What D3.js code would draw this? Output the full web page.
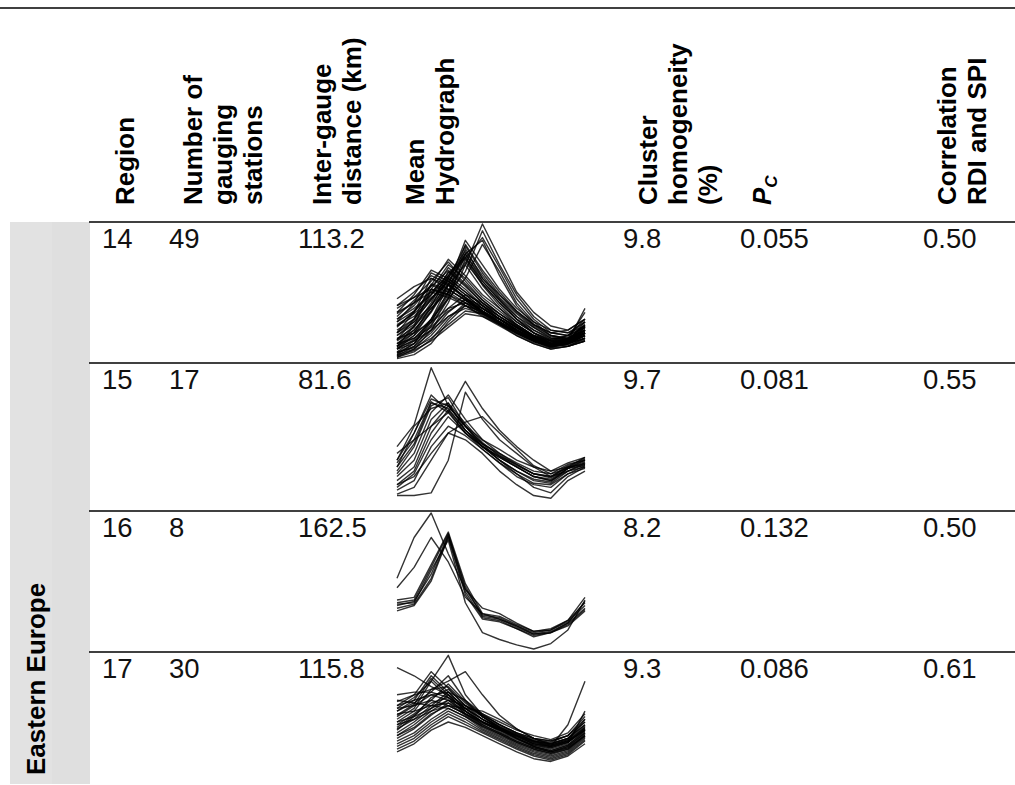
<!DOCTYPE html>
<html>
<head>
<meta charset="utf-8">
<script src="https://cdn.jsdelivr.net/npm/d3@7"></script>
<style>
    html, body { margin: 0; padding: 0; background: #fff; }
    svg { display: block; font-family: "Liberation Sans", Arial, sans-serif; }
</style>
</head>
<body>
<svg id="chart" width="1015" height="785"></svg>
<script>
// ── Table values ─────────────────────────────────────────
const groupLabel = 'Eastern Europe';
const regions = ['14', '15', '16', '17'];
const stations = ['49', '17', '8', '30'];
const distances = ['113.2', '81.6', '162.5', '115.8'];
const homogeneity = ['9.8', '9.7', '8.2', '9.3'];
const pcValues = ['0.055', '0.081', '0.132', '0.086'];
const correlations = ['0.50', '0.55', '0.50', '0.61'];

// Mean hydrographs, one line per gauging station, 12 months, scaled 0-100 per cell
const hydro14 = [
    [20, 28, 40, 55, 70, 100, 75, 50, 35, 25, 22, 30],
    [15, 25, 38, 50, 65, 95, 70, 48, 32, 22, 20, 28],
    [25, 32, 45, 58, 75, 90, 68, 45, 30, 20, 18, 25],
    [10, 18, 30, 45, 60, 85, 65, 42, 28, 18, 16, 22],
    [30, 38, 48, 60, 78, 88, 62, 40, 26, 18, 15, 20],
    [12, 20, 35, 55, 88, 70, 52, 38, 28, 22, 20, 25],
    [8, 15, 30, 50, 85, 66, 50, 36, 26, 20, 18, 24],
    [18, 26, 40, 60, 84, 64, 48, 35, 25, 18, 16, 22],
    [5, 12, 28, 48, 82, 60, 45, 32, 24, 17, 15, 20],
    [22, 30, 44, 62, 80, 62, 46, 34, 24, 16, 14, 18],
    [3, 10, 25, 45, 78, 58, 44, 30, 22, 15, 13, 18],
    [14, 22, 36, 56, 78, 60, 48, 36, 26, 20, 22, 30],
    [28, 36, 48, 64, 76, 56, 42, 30, 20, 14, 12, 16],
    [6, 14, 26, 46, 74, 55, 40, 28, 20, 14, 14, 20],
    [35, 42, 50, 62, 75, 58, 44, 32, 22, 16, 15, 22],
    [10, 16, 28, 50, 72, 56, 42, 30, 20, 12, 10, 14],
    [2, 8, 22, 42, 70, 52, 38, 26, 18, 12, 12, 18],
    [30, 40, 55, 74, 62, 48, 38, 28, 20, 15, 18, 28],
    [25, 35, 52, 70, 60, 46, 36, 26, 18, 13, 16, 25],
    [40, 46, 58, 72, 58, 44, 34, 25, 17, 12, 14, 22],
    [20, 30, 48, 68, 56, 44, 34, 26, 18, 14, 18, 30],
    [15, 24, 42, 65, 54, 42, 32, 24, 16, 12, 15, 26],
    [10, 20, 40, 62, 52, 40, 30, 22, 15, 10, 14, 24],
    [34, 42, 54, 66, 55, 42, 32, 24, 16, 12, 13, 20],
    [8, 18, 36, 60, 50, 40, 30, 22, 15, 11, 16, 35],
    [18, 28, 45, 58, 48, 38, 30, 22, 15, 10, 12, 18],
    [4, 12, 30, 55, 46, 36, 28, 20, 14, 10, 14, 28],
    [26, 34, 46, 56, 46, 36, 28, 20, 14, 10, 12, 20],
    [12, 22, 38, 52, 44, 35, 27, 20, 14, 10, 14, 38],
    [35, 48, 66, 60, 50, 40, 32, 24, 17, 12, 14, 22],
    [28, 42, 64, 58, 48, 38, 30, 22, 16, 11, 13, 20],
    [40, 50, 62, 56, 46, 38, 30, 22, 16, 12, 15, 24],
    [20, 35, 60, 55, 45, 36, 28, 21, 15, 11, 14, 26],
    [45, 54, 60, 52, 44, 36, 28, 20, 14, 10, 12, 18],
    [15, 30, 56, 52, 44, 35, 27, 20, 14, 10, 13, 22],
    [32, 44, 55, 50, 42, 34, 27, 20, 14, 10, 12, 20],
    [10, 25, 52, 48, 40, 33, 26, 19, 13, 9, 12, 24],
    [24, 36, 50, 46, 40, 32, 25, 18, 12, 8, 10, 16],
    [38, 46, 52, 48, 42, 34, 26, 18, 12, 8, 10, 14],
    [5, 10, 20, 35, 45, 40, 32, 24, 16, 12, 14, 20],
    [2, 6, 15, 30, 42, 38, 30, 22, 15, 10, 12, 18],
    [8, 12, 22, 38, 48, 42, 34, 25, 17, 12, 13, 19],
    [1, 4, 12, 28, 40, 35, 28, 20, 14, 10, 12, 16],
    [12, 16, 24, 36, 44, 38, 30, 22, 15, 11, 12, 16],
    [4, 8, 18, 32, 38, 34, 28, 22, 16, 12, 14, 20],
    [16, 20, 28, 38, 42, 36, 28, 21, 14, 10, 11, 15],
    [6, 9, 16, 26, 36, 34, 30, 24, 18, 14, 15, 22],
    [3, 7, 14, 24, 34, 32, 26, 20, 14, 9, 10, 14],
    [9, 14, 22, 32, 40, 36, 30, 23, 17, 13, 14, 21]
];

const hydro15 = [
    [40, 56, 98, 70, 55, 45, 38, 30, 25, 22, 28, 32],
    [30, 50, 75, 70, 55, 42, 35, 28, 22, 20, 27, 30],
    [28, 45, 73, 65, 50, 40, 33, 27, 20, 18, 26, 31],
    [25, 42, 72, 68, 52, 42, 34, 26, 20, 17, 25, 30],
    [22, 40, 70, 76, 55, 40, 32, 25, 18, 16, 24, 29],
    [20, 35, 65, 78, 60, 45, 35, 27, 20, 18, 25, 32],
    [18, 30, 60, 72, 57, 43, 33, 25, 18, 15, 24, 28],
    [15, 25, 55, 70, 55, 42, 30, 22, 15, 13, 22, 27],
    [12, 22, 50, 67, 52, 40, 30, 20, 13, 12, 20, 26],
    [10, 20, 45, 62, 50, 38, 28, 18, 12, 10, 20, 24],
    [35, 45, 55, 65, 88, 68, 52, 40, 30, 22, 25, 27],
    [4, 4, 6, 30, 80, 60, 45, 35, 25, 18, 22, 25],
    [12, 18, 35, 50, 58, 62, 50, 38, 26, 20, 24, 26],
    [8, 15, 40, 55, 48, 38, 28, 20, 10, 6, 18, 25],
    [5, 10, 30, 50, 45, 35, 22, 12, 4, 2, 15, 22],
    [25, 50, 78, 66, 50, 40, 32, 25, 18, 15, 22, 28],
    [30, 55, 68, 72, 52, 40, 30, 22, 16, 14, 24, 30]
];

const hydro16 = [
    [52, 82, 100, 70, 44, 30, 26, 19, 13, 14, 21, 38],
    [45, 60, 82, 64, 38, 26, 22, 17, 11, 12, 19, 35],
    [34, 36, 60, 85, 44, 25, 23, 17, 12, 14, 20, 32],
    [32, 35, 55, 84, 46, 24, 22, 16, 11, 13, 19, 30],
    [30, 33, 52, 83, 42, 23, 21, 15, 10, 12, 18, 29],
    [36, 38, 62, 86, 48, 26, 24, 18, 13, 15, 21, 34],
    [28, 32, 50, 82, 40, 22, 20, 15, 9, 12, 17, 28],
    [33, 34, 58, 80, 34, 12, 7, 3, 0, 4, 14, 36]
];

const hydro17 = [
    [60, 68, 80, 99, 70, 55, 48, 42, 38, 36, 40, 52],
    [90, 84, 76, 70, 62, 55, 48, 42, 38, 36, 40, 50],
    [62, 70, 87, 75, 62, 54, 47, 41, 36, 34, 38, 48],
    [58, 66, 84, 72, 60, 52, 46, 40, 35, 33, 37, 47],
    [55, 63, 82, 70, 58, 50, 45, 39, 34, 32, 36, 46],
    [52, 60, 80, 68, 56, 49, 44, 38, 33, 31, 35, 45],
    [50, 58, 74, 80, 87, 70, 55, 45, 38, 34, 38, 50],
    [48, 56, 66, 78, 65, 54, 46, 40, 34, 32, 48, 80],
    [65, 70, 74, 76, 64, 54, 46, 40, 35, 32, 36, 46],
    [70, 72, 72, 68, 60, 52, 45, 39, 34, 31, 35, 44],
    [45, 52, 62, 72, 60, 50, 44, 38, 32, 29, 33, 44],
    [42, 50, 60, 70, 58, 48, 42, 36, 31, 28, 32, 42],
    [40, 48, 58, 66, 56, 47, 41, 35, 30, 27, 31, 41],
    [38, 45, 55, 64, 55, 46, 40, 34, 29, 26, 30, 40],
    [36, 42, 52, 60, 54, 45, 39, 33, 28, 25, 29, 39],
    [56, 58, 62, 64, 58, 50, 43, 37, 32, 29, 33, 43],
    [60, 62, 66, 62, 56, 48, 42, 36, 31, 28, 32, 42],
    [66, 64, 62, 60, 54, 47, 41, 35, 30, 27, 30, 40],
    [44, 54, 68, 74, 62, 52, 45, 38, 33, 30, 34, 58],
    [34, 40, 50, 58, 52, 44, 38, 32, 27, 24, 28, 38],
    [32, 38, 48, 56, 50, 43, 37, 31, 26, 23, 27, 37],
    [30, 36, 46, 54, 48, 42, 36, 30, 25, 22, 26, 36],
    [54, 62, 70, 66, 58, 50, 44, 40, 36, 34, 38, 48],
    [46, 55, 64, 68, 60, 52, 46, 41, 37, 35, 40, 54],
    [50, 54, 60, 66, 62, 56, 50, 44, 40, 37, 42, 56],
    [58, 64, 72, 84, 66, 54, 46, 38, 32, 28, 31, 40],
    [40, 46, 56, 62, 60, 58, 52, 45, 38, 33, 36, 44],
    [28, 34, 44, 50, 46, 40, 34, 28, 23, 21, 25, 34],
    [62, 66, 70, 72, 66, 56, 48, 42, 36, 32, 35, 45],
    [48, 52, 58, 62, 56, 50, 45, 40, 36, 33, 37, 52]
];

const hydrographs = [hydro14, hydro15, hydro16, hydro17];
const months = d3.range(12);

// ── Layout ───────────────────────────────────────────────
const W = 1015;
const headerTop = 8, headerBottom = 222;
const rowTops = [222, 363, 511, 652];
const tableBottom = 784;
const headFont = 26, cellFont = 27.5;

const svg = d3.select('#chart');

// Grey group column
svg.append('rect')
    .attr('x', 10).attr('y', headerBottom)
    .attr('width', 42).attr('height', tableBottom - headerBottom)
    .attr('fill', '#e2e2e2');
svg.append('rect')
    .attr('x', 52).attr('y', headerBottom)
    .attr('width', 38).attr('height', tableBottom - headerBottom)
    .attr('fill', '#dfdfdf');

svg.append('text')
    .attr('transform', `translate(45,775) rotate(-90)`)
    .attr('font-size', headFont)
    .attr('font-weight', 'bold')
    .text(groupLabel);

// Rules
svg.append('line')
    .attr('x1', 0).attr('x2', W)
    .attr('y1', headerTop).attr('y2', headerTop)
    .attr('stroke', '#000').attr('stroke-width', 1.3);

svg.selectAll('line.row')
    .data(rowTops)
    .join('line')
    .attr('class', 'row')
    .attr('x1', 89).attr('x2', W)
    .attr('y1', d => d).attr('y2', d => d)
    .attr('stroke', '#000').attr('stroke-width', 1.3);

// Rotated column headers: [baseline x, text]
const headerLines = [
    [134, 'Region'],
    [202, 'Number of'], [232, 'gauging'], [262, 'stations'],
    [331, 'Inter-gauge'], [361, 'distance (km)'],
    [424, 'Mean'], [454, 'Hydrograph'],
    [657, 'Cluster'], [687, 'homogeneity'], [717, '(%)'],
    [956, 'Correlation'], [986, 'RDI and SPI']
];

svg.selectAll('text.head')
    .data(headerLines)
    .join('text')
    .attr('class', 'head')
    .attr('transform', d => `translate(${d[0]},205) rotate(-90)`)
    .attr('font-size', headFont)
    .attr('font-weight', 'bold')
    .text(d => d[1]);

// P_C header
const pc = svg.append('text')
    .attr('transform', 'translate(771,205) rotate(-90)')
    .attr('font-size', headFont)
    .attr('font-weight', 'bold')
    .attr('font-style', 'italic');
pc.append('tspan').text('P');
pc.append('tspan')
    .attr('font-size', 17)
    .attr('dy', 6)
    .text('C');

// Value columns
const columns = [
    { x: 102, values: regions },
    { x: 169, values: stations },
    { x: 298, values: distances },
    { x: 623, values: homogeneity },
    { x: 740, values: pcValues },
    { x: 923, values: correlations }
];

for (const col of columns) {
    svg.append('g')
        .selectAll('text')
        .data(col.values)
        .join('text')
        .attr('x', col.x)
        .attr('y', (d, i) => rowTops[i] + 26)
        .attr('font-size', cellFont)
        .attr('fill', '#111')
        .text(d => d);
}

// Hydrograph sparklines
const x = d3.scaleLinear().domain([0, 11]).range([397, 585]);

hydrographs.forEach((series, i) => {
    const y = d3.scaleLinear()
        .domain([0, 100])
        .range([rowTops[i] + 138, rowTops[i] + 2]);

    const line = d3.line()
        .x((d, k) => x(months[k]))
        .y(d => y(d));

    svg.append('g')
        .selectAll('path')
        .data(series)
        .join('path')
        .attr('d', line)
        .attr('fill', 'none')
        .attr('stroke', '#000')
        .attr('stroke-opacity', 0.8)
        .attr('stroke-width', 1.4)
        .attr('stroke-linejoin', 'round');
});
</script>
</body>
</html>
